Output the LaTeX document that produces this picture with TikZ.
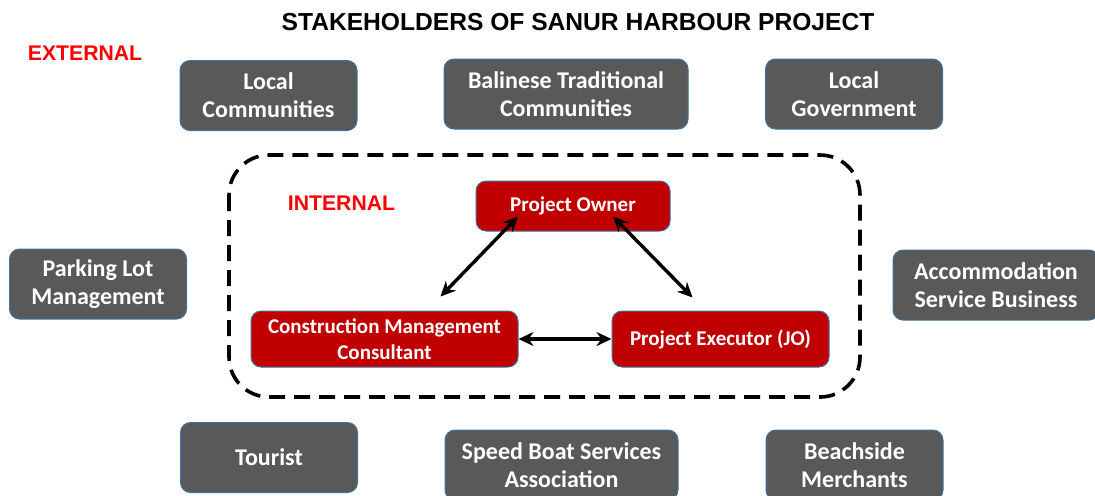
\documentclass[tikz,border=0pt]{standalone}
\usepackage{fontspec}
\setmainfont{Carlito}
\newfontfamily\arialfont{Liberation Sans}
\usetikzlibrary{arrows.meta,calc}
\definecolor{boxgray}{HTML}{595959}
\definecolor{boxred}{HTML}{C00000}
\definecolor{edgeblue}{HTML}{41719C}
\tikzset{
  extbox/.style={draw=edgeblue, line width=0.5pt, fill=boxgray, rounded corners=5pt,
    text=white, font=\fontsize{12}{14}\selectfont\bfseries, align=center,
    minimum width=88.5pt, minimum height=35pt, inner sep=0pt},
  intbox/.style={draw=edgeblue, line width=0.5pt, fill=boxred, rounded corners=5pt,
    text=white, font=\fontsize{10.5}{13}\selectfont\bfseries, align=center,
    minimum height=28pt, inner sep=0pt},
  link/.style={{Stealth[length=7.5pt,width=7pt]}-{Stealth[length=7.5pt,width=7pt]}, line width=1.7pt},
  tag/.style={text=red, font=\arialfont\fontsize{10.6}{12}\selectfont\bfseries}
}
\begin{document}
\begin{tikzpicture}[x=0.5pt,y=-0.5pt]
\useasboundingbox (0,0) rectangle (1095,495);
\node[font=\arialfont\fontsize{12.3}{14}\selectfont\bfseries] (title) at (578,22)
  {STAKEHOLDERS OF SANUR HARBOUR PROJECT};
\node[tag] (external) at (85,53) {EXTERNAL};
% external stakeholders
\node[extbox] (locom) at (268.5,95.5) {Local\\Communities};
\node[extbox, minimum width=122pt] (bali) at (566,94) {Balinese Traditional\\Communities};
\node[extbox] (locgov) at (854,94) {Local\\Government};
\node[extbox] (parking) at (98,284) {Parking Lot\\Management};
\node[extbox, minimum width=103pt] (accom) at (996,285) {Accommodation\\Service Business};
\node[extbox] (tourist) at (269,457.5) {Tourist};
\node[extbox, minimum width=116.5pt] (speed) at (561.5,465) {Speed Boat Services\\Association};
\node[extbox] (beach) at (854.5,465) {Beachside\\Merchants};
% internal stakeholders
\draw[dashed, dash pattern=on 8pt off 4.5pt, line width=1.8pt, rounded corners=20pt]
  (229,155) rectangle (860,397);
\node[tag] (internal) at (341.5,203) {INTERNAL};
\node[intbox, minimum width=97pt, minimum height=25pt] (owner) at (573,206) {Project Owner};
\node[intbox, minimum width=133.5pt] (cmc) at (384.5,339) {Construction Management\\Consultant};
\node[intbox, minimum width=108.5pt] (exe) at (720.5,339) {Project Executor (JO)};
\draw[link] ($(cmc.north)+(56,-14)$) -- ($(owner.south)+(-55,-15)$);
\draw[link] ($(owner.south)+(40,-15)$) -- ($(exe.north)+(-28,-13)$);
\draw[link] (cmc.east) -- (exe.west);
\end{tikzpicture}
\end{document}
